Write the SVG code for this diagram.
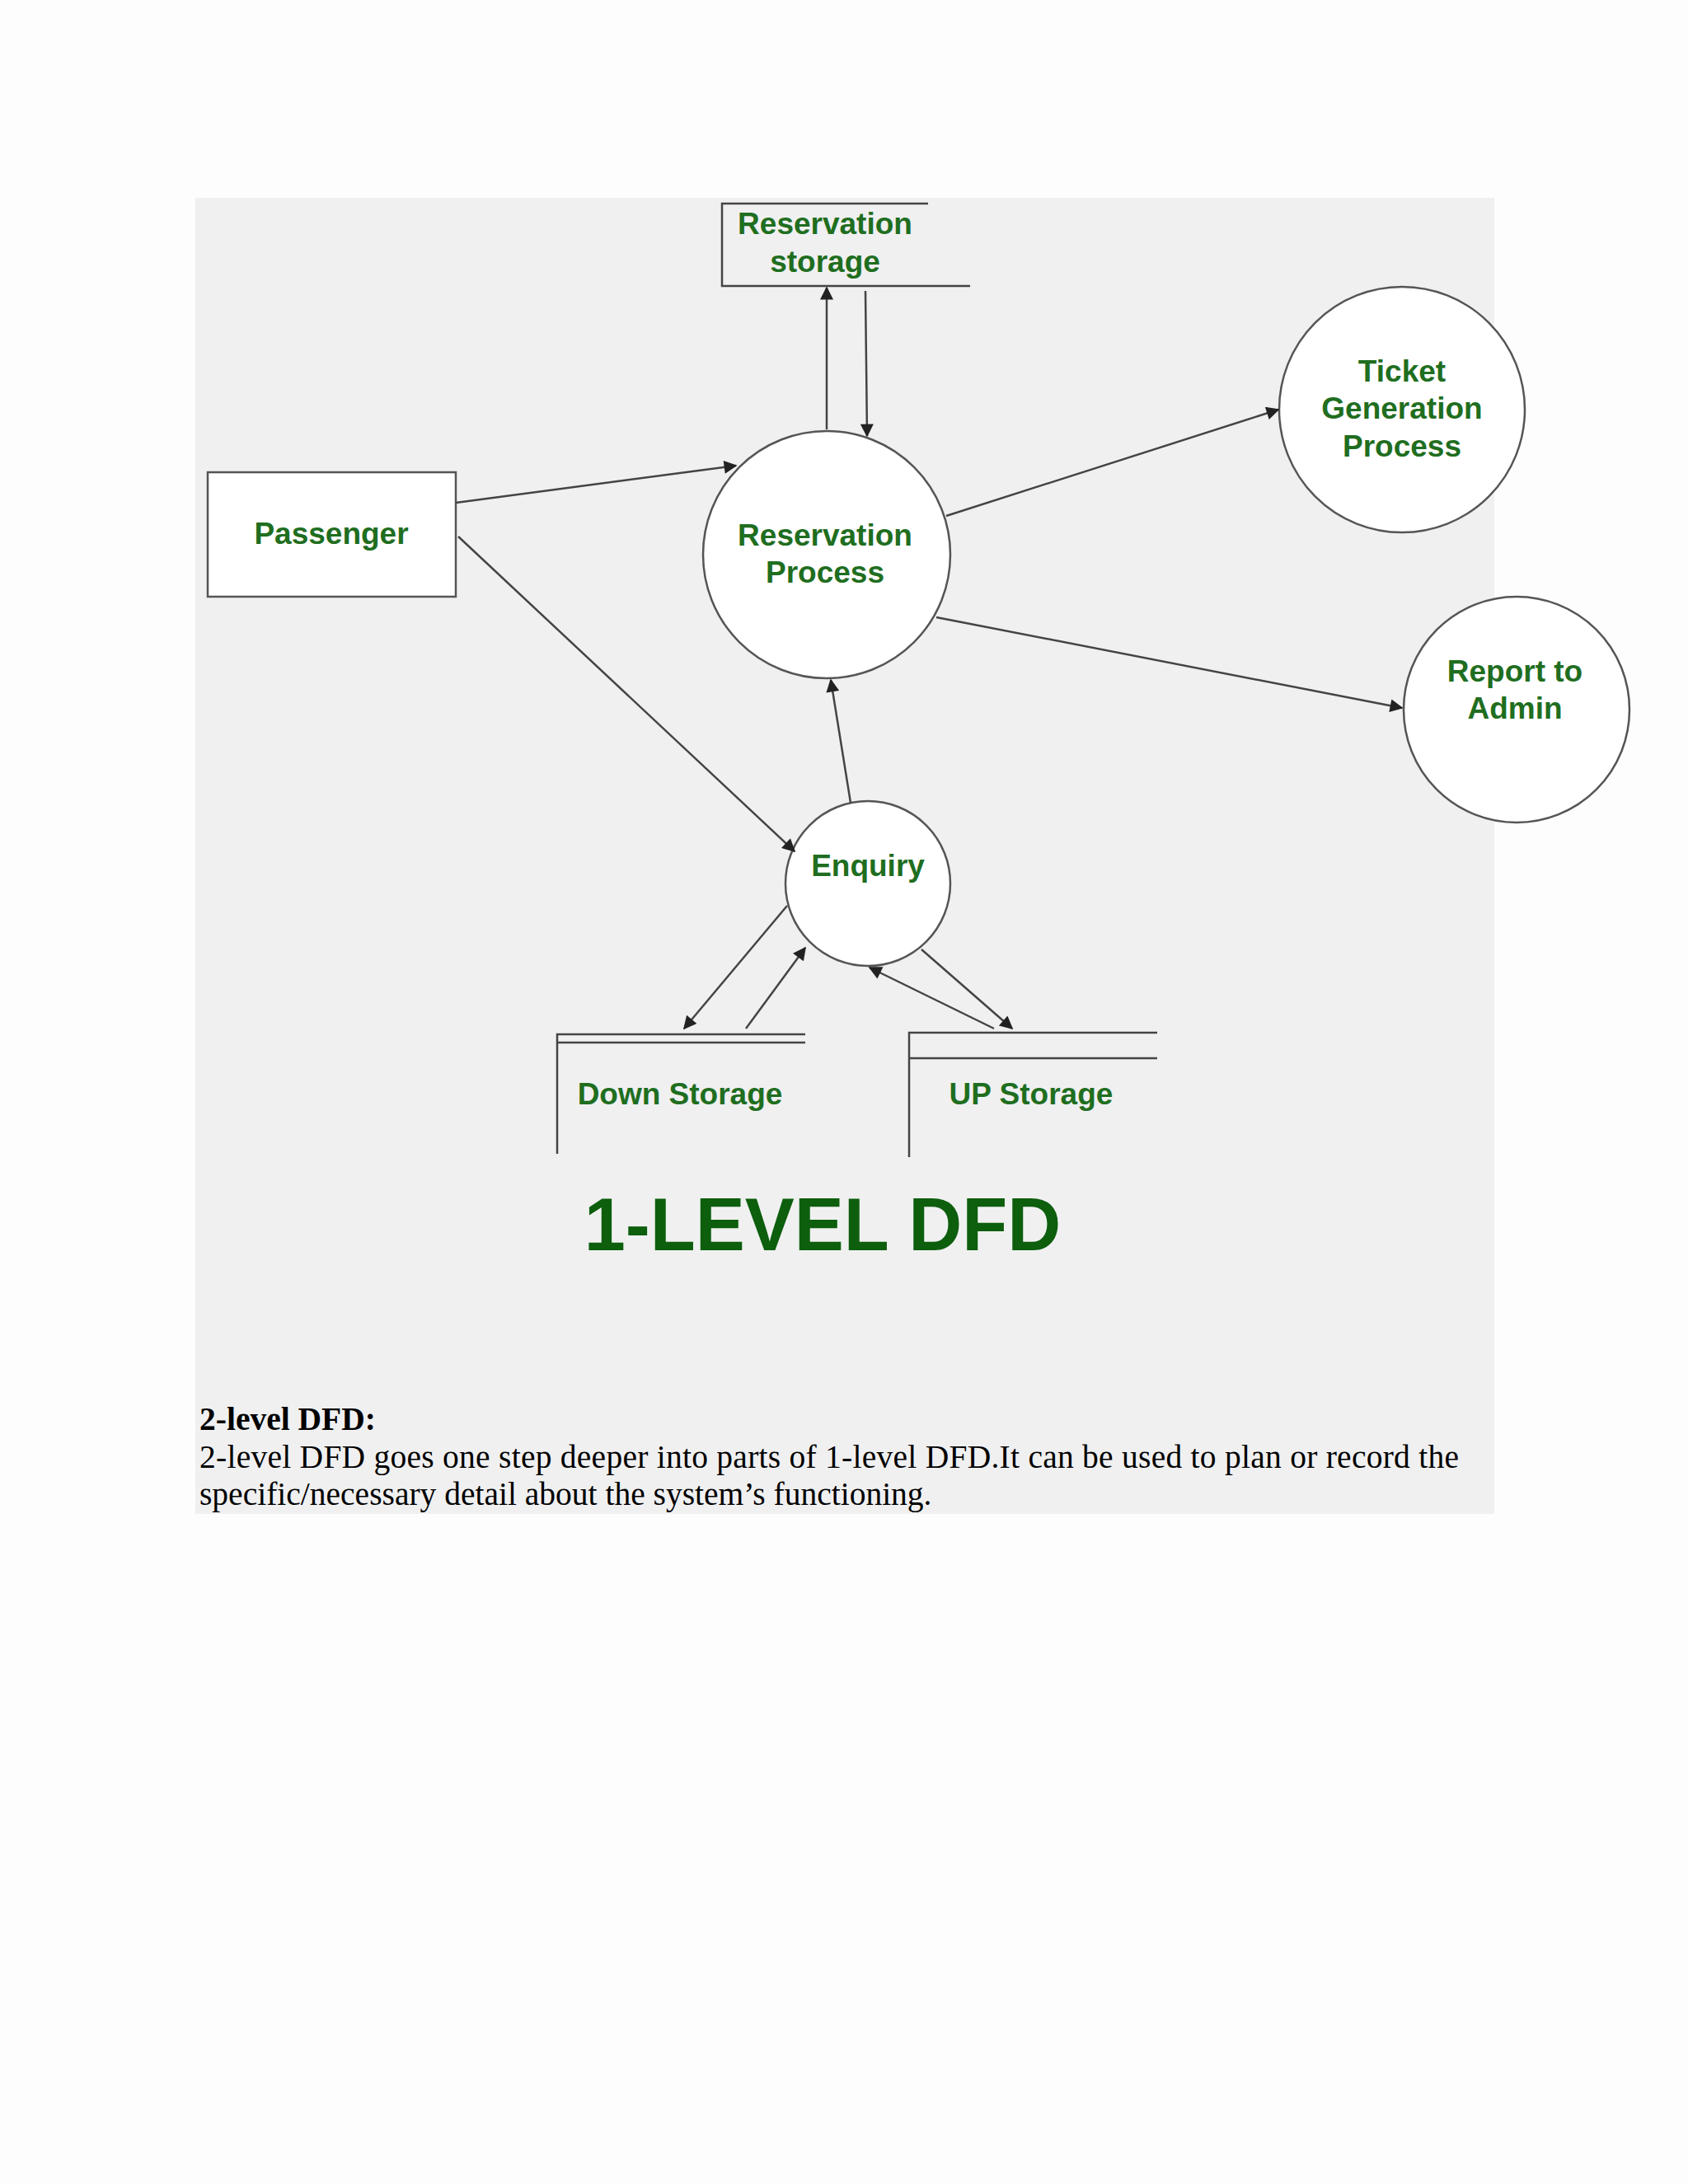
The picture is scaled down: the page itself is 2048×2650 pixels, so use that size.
<svg xmlns="http://www.w3.org/2000/svg" width="2048" height="2650" viewBox="0 0 2048 2650">
<style>
.g{font-family:"Liberation Sans",Arial,sans-serif;font-weight:bold;fill:#1f6e1f;font-size:37px;text-anchor:middle}
.s{fill:#fff;stroke:#555;stroke-width:2.5}
.l{fill:none;stroke:#444;stroke-width:2.5}
.c{stroke:#444;stroke-width:2.5;fill:none;marker-end:url(#a)}
.t{font-family:"Liberation Serif","Times New Roman",serif;font-size:39.5px;fill:#000}
</style>
<defs><marker id="a" viewBox="0 0 10 10" refX="9" refY="5" markerWidth="18" markerHeight="16" orient="auto" markerUnits="userSpaceOnUse"><path d="M0,0L10,5L0,10z" fill="#222"/></marker></defs>
<rect x="0" y="0" width="2048" height="2650" fill="#fdfdfd"/>
<rect x="237" y="240" width="1576" height="1597" fill="#f0f0f1"/>
<g id="storage"><path class="l" d="M1126,247H876V347H1177"/><text class="g" x="1001" y="284">Reservation</text><text class="g" x="1001" y="330">storage</text></g>
<g id="passenger"><rect class="s" x="252" y="573" width="301" height="151"/><text class="g" x="402" y="660">Passenger</text></g>
<g id="resproc"><circle class="s" cx="1003" cy="673" r="150"/><text class="g" x="1001" y="662">Reservation</text><text class="g" x="1001" y="707">Process</text></g>
<g id="ticket"><circle class="s" cx="1701" cy="497" r="149"/><text class="g" x="1701" y="463">Ticket</text><text class="g" x="1701" y="508">Generation</text><text class="g" x="1701" y="554">Process</text></g>
<g id="report"><circle class="s" cx="1840" cy="861" r="137"/><text class="g" x="1838" y="827">Report to</text><text class="g" x="1838" y="872">Admin</text></g>
<g id="enquiry"><circle class="s" cx="1053" cy="1072" r="100"/><text class="g" x="1053" y="1063">Enquiry</text></g>
<g id="down"><path class="l" d="M676,1400V1255H977M676,1265H977"/><text class="g" x="825" y="1340">Down Storage</text></g>
<g id="up"><path class="l" d="M1103,1404V1253H1404M1103,1284H1404"/><text class="g" x="1251" y="1340">UP Storage</text></g>
<g id="connectors">
<line class="c" x1="553" y1="610" x2="893" y2="565"/>
<line class="c" x1="556" y1="651" x2="964" y2="1033"/>
<line class="c" x1="1003" y1="521" x2="1003" y2="349"/>
<line class="c" x1="1050" y1="353" x2="1052" y2="529"/>
<line class="c" x1="1148" y1="626" x2="1551" y2="497"/>
<line class="c" x1="1136" y1="749" x2="1701" y2="859"/>
<line class="c" x1="1032" y1="974" x2="1008" y2="825"/>
<line class="c" x1="955" y1="1099" x2="830" y2="1248"/>
<line class="c" x1="905" y1="1248" x2="977" y2="1150"/>
<line class="c" x1="1118" y1="1152" x2="1228" y2="1248"/>
<line class="c" x1="1206" y1="1248" x2="1055" y2="1174"/>
</g>
<text x="998" y="1517" style="font-family:'Liberation Sans',Arial,sans-serif;font-weight:bold;font-size:90px;fill:#0d5e0d;text-anchor:middle">1-LEVEL DFD</text>
<text class="t" x="242" y="1735" font-weight="bold">2-level DFD:</text>
<text class="t" x="242" y="1781" textLength="1528">2-level DFD goes one step deeper into parts of 1-level DFD.It can be used to plan or record the</text>
<text class="t" x="242" y="1826">specific/necessary detail about the system’s functioning.</text>
</svg>
